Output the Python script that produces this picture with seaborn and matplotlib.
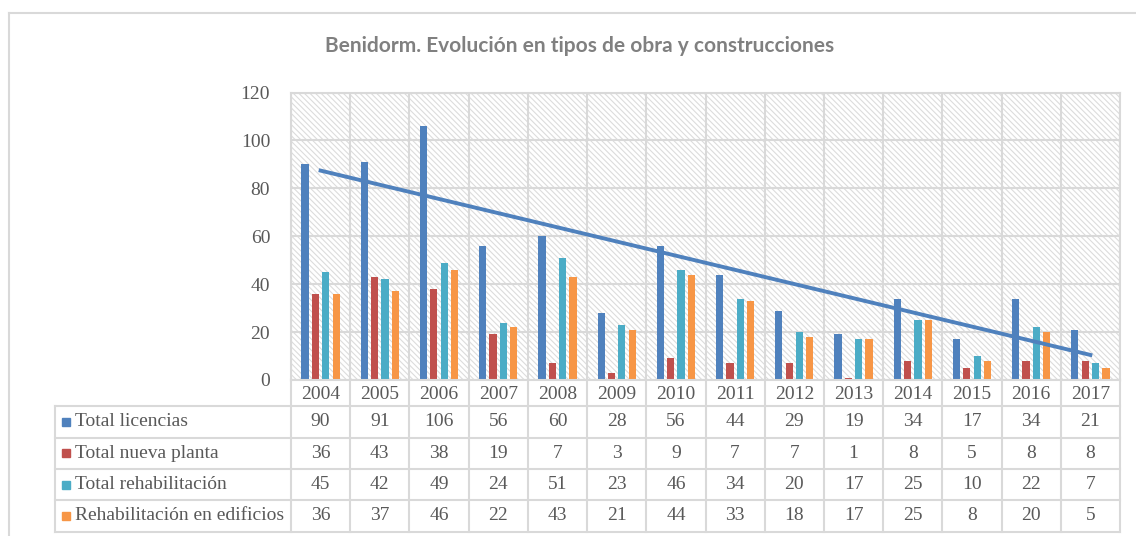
import numpy as np
import pandas as pd
import matplotlib
matplotlib.use('Agg')
import matplotlib.pyplot as plt
import matplotlib.transforms as mtransforms
from matplotlib.lines import Line2D
from matplotlib.patches import Rectangle
import seaborn as sns

years = ['2004', '2005', '2006', '2007', '2008', '2009', '2010',
         '2011', '2012', '2013', '2014', '2015', '2016', '2017']
total_licencias = [90, 91, 106, 56, 60, 28, 56, 44, 29, 19, 34, 17, 34, 21]
total_nueva_planta = [36, 43, 38, 19, 7, 3, 9, 7, 7, 1, 8, 5, 8, 8]
total_rehabilitacion = [45, 42, 49, 24, 51, 23, 46, 34, 20, 17, 25, 10, 22, 7]
rehab_edificios = [36, 37, 46, 22, 43, 21, 44, 33, 18, 17, 25, 8, 20, 5]

series = ['Total licencias', 'Total nueva planta', 'Total rehabilitación',
          'Rehabilitación en edificios']
colors = ['#4f81bd', '#c0504d', '#4bacc6', '#f79646']
title = 'Benidorm. Evolución en tipos de obra y construcciones'

values = [total_licencias, total_nueva_planta, total_rehabilitacion, rehab_edificios]
df = pd.DataFrame({
    'anio': years * len(series),
    'serie': np.repeat(series, len(years)),
    'valor': np.concatenate(values),
})

W, H = 1136, 536
grid_c = '#d9d9d9'
text_c = '#595959'
serif = ['Liberation Serif', 'DejaVu Serif']
fs = 14


def fx(px):
    return px / W


def fy(py):
    return 1 - py / H


plt.rcParams['hatch.linewidth'] = 0.8
fig = plt.figure(figsize=(W / 100, H / 100), dpi=100)
ax = fig.add_axes([fx(291), fy(380), fx(1120) - fx(291), fy(92.5) - fy(380)])

# hatched plot area background
ax.add_patch(Rectangle((0, 0), 1, 1, transform=ax.transAxes, facecolor='white',
                       edgecolor='#dcdcdc', hatch='\\' * 6, lw=0, zorder=0.1))

sns.barplot(data=df, x='anio', y='valor', hue='serie', hue_order=series,
            palette=colors, width=0.7, gap=0.3, saturation=1, legend=False,
            ax=ax, zorder=2)

# linear trend of total licences
sns.regplot(x=np.arange(len(years)), y=np.array(total_licencias), scatter=False,
            ci=None, color=colors[0], line_kws=dict(lw=2.8, zorder=4), ax=ax)

ax.set_xlim(-0.5, len(years) - 0.5)
ax.set_ylim(0, 120)
ax.set_yticks(range(0, 121, 20))
ax.set_xticks(range(len(years)))
ax.set_xticklabels(years)
ax.set_xticks(np.arange(-0.5, len(years), 1), minor=True)
ax.set_xlabel('')
ax.set_ylabel('')
ax.set_axisbelow(True)
ax.yaxis.grid(True, color=grid_c, lw=1.5)
ax.xaxis.grid(True, which='minor', color=grid_c, lw=1.5)
ax.tick_params(axis='both', which='both', length=0, colors=text_c, labelsize=fs)
ax.tick_params(axis='x', pad=4)
ax.tick_params(axis='y', pad=15)
for lab in ax.get_xticklabels() + ax.get_yticklabels():
    lab.set_family(serif)
for sp in ax.spines.values():
    sp.set_color(grid_c)
    sp.set_linewidth(1.5)

# data table below the plot
trans = mtransforms.blended_transform_factory(ax.transData, fig.transFigure)
row_lines = [406, 437.5, 469, 500, 531.5]
for py in row_lines:
    fig.add_artist(Line2D([fx(55), fx(1120)], [fy(py), fy(py)],
                          transform=fig.transFigure, color=grid_c, lw=1.5))
for k in range(len(years) + 1):
    fig.add_artist(Line2D([k - 0.5, k - 0.5], [fy(380), fy(531.5)],
                          transform=trans, color=grid_c, lw=1.5))
fig.add_artist(Line2D([fx(55), fx(55)], [fy(406), fy(531.5)],
                      transform=fig.transFigure, color=grid_c, lw=1.5))

for r, (name, col, vals) in enumerate(zip(series, colors, values)):
    yc = (row_lines[r] + row_lines[r + 1]) / 2
    fig.add_artist(Rectangle((fx(62), fy(yc + 4)), fx(8), 8 / H,
                             transform=fig.transFigure, color=col))
    fig.text(fx(75), fy(yc), name, ha='left', va='center', color=text_c,
             fontsize=fs, family=serif)
    for i, v in enumerate(vals):
        fig.text(i, fy(yc), str(v), transform=trans, ha='center', va='center',
                 color=text_c, fontsize=fs, family=serif)

# outer chart border (left and top visible)
fig.add_artist(Line2D([fx(8.5), fx(8.5)], [fy(12.5), 0], transform=fig.transFigure,
                      color=grid_c, lw=1.5))
fig.add_artist(Line2D([fx(8.5), 1], [fy(12.5), fy(12.5)], transform=fig.transFigure,
                      color=grid_c, lw=1.5))

fig.text(fx(580), fy(46), title, ha='center', va='center', color='#808080',
         fontsize=15, fontweight='bold', family=['Lato', 'DejaVu Sans'])

fig.savefig('out.png', dpi=100)
